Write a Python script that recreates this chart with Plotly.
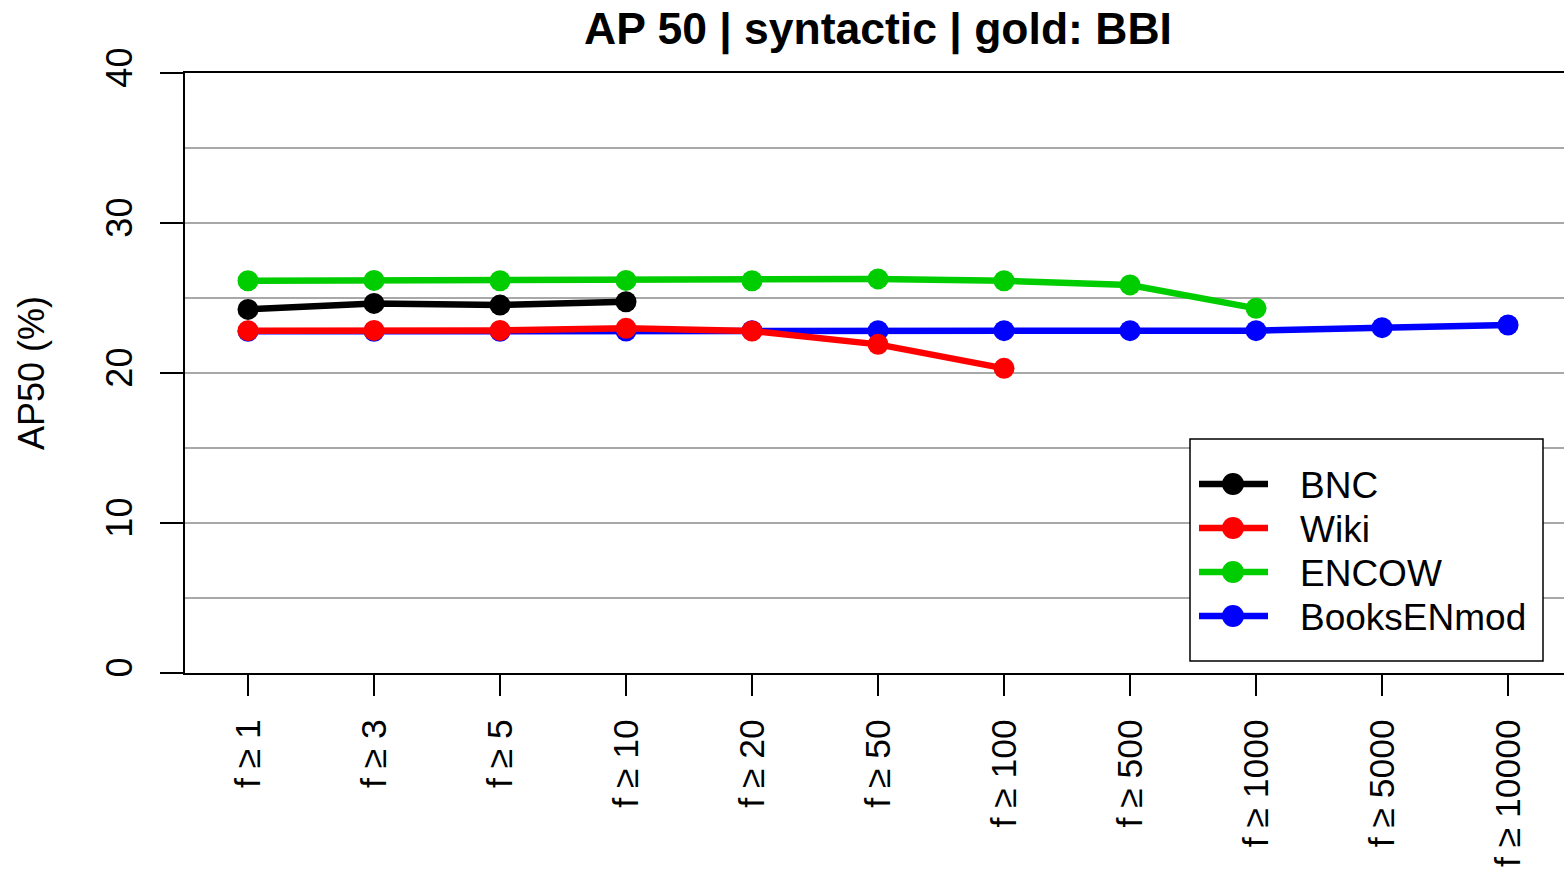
import plotly.graph_objects as go

# Frequency thresholds on the x axis
categories = ["f \u2265 1", "f \u2265 3", "f \u2265 5", "f \u2265 10", "f \u2265 20", "f \u2265 50",
              "f \u2265 100", "f \u2265 500", "f \u2265 1000", "f \u2265 5000", "f \u2265 10000"]

# AP50 (%) per corpus; None where the corpus has no data for a threshold
bnc = [24.24, 24.64, 24.53, 24.75, None, None, None, None, None, None, None]
wiki = [22.82, 22.84, 22.84, 22.98, 22.80, 21.91, 20.31, None, None, None, None]
encow = [26.15, 26.17, 26.15, 26.17, 26.15, 26.27, 26.15, 25.87, 24.31, None, None]
books = [22.78, 22.78, 22.78, 22.80, 22.82, 22.82, 22.82, 22.82, 22.82, 23.02, 23.20]

y_ticks = [0, 10, 20, 30, 40]

series_names = ["BNC", "Wiki", "ENCOW", "BooksENmod"]
series_colors = ["#000000", "#FF0000", "#00CD00", "#0000FF"]
series_values = [bnc, wiki, encow, books]

FONT = "Liberation Sans, Arial, Helvetica, sans-serif"
W, H = 1564, 871
L, R, T, B = 185, 0, 73, 198
PW, PH = W - L - R, H - T - B


def px_x(p):
    return (p - L) / PW


def px_y(p):
    return (H - B - p) / PH


fig = go.Figure()

# draw order: BooksENmod underneath, then BNC, Wiki, ENCOW
for idx in [3, 0, 1, 2]:
    fig.add_trace(go.Scatter(
        x=categories, y=series_values[idx], name=series_names[idx],
        mode="lines+markers", connectgaps=False,
        line=dict(color=series_colors[idx], width=6.5),
        marker=dict(color=series_colors[idx], size=21, line=dict(width=0)),
        showlegend=False,
    ))

# legend box in the lower right
shapes = [dict(type="rect", xref="paper", yref="paper",
               x0=px_x(1190), x1=px_x(1543), y0=px_y(661), y1=px_y(439),
               line=dict(color="black", width=1.5), fillcolor="white", layer="above")]
annotations = []
rows = [484, 528, 572, 616]
for name, color, ry in zip(series_names, series_colors, rows):
    shapes.append(dict(type="line", xref="paper", yref="paper",
                       x0=px_x(1199), x1=px_x(1268), y0=px_y(ry), y1=px_y(ry),
                       line=dict(color=color, width=6.5), layer="above"))
    shapes.append(dict(type="circle", xref="paper", yref="paper",
                       xsizemode="pixel", ysizemode="pixel",
                       xanchor=px_x(1233), yanchor=px_y(ry),
                       x0=-11, x1=11, y0=-11, y1=11,
                       line=dict(width=0), fillcolor=color, layer="above"))
    annotations.append(dict(text=name, xref="paper", yref="paper",
                            x=px_x(1298), y=px_y(ry + 1), xanchor="left", yanchor="middle",
                            showarrow=False, font=dict(family=FONT, size=37, color="black")))

# title and y-axis label
annotations.append(dict(text="<b>AP 50 | syntactic | gold: BBI</b>", xref="paper", yref="paper",
                        x=px_x(878), y=px_y(29), xanchor="center", yanchor="middle",
                        showarrow=False, font=dict(family=FONT, size=44.5, color="black")))
annotations.append(dict(text="AP50 (%)", xref="paper", yref="paper",
                        x=px_x(31), y=px_y(373), xanchor="center", yanchor="middle",
                        textangle=-90, showarrow=False,
                        font=dict(family=FONT, size=36, color="black")))

fig.update_layout(
    width=W, height=H,
    margin=dict(l=L, r=R, t=T, b=B, pad=0),
    paper_bgcolor="white", plot_bgcolor="white",
    font=dict(family=FONT, size=36, color="black"),
    shapes=shapes, annotations=annotations,
    showlegend=False,
)

fig.update_xaxes(
    type="category", range=[-0.5, 10.444],
    showline=True, linecolor="black", linewidth=2, mirror=True,
    ticks="outside", ticklen=21, tickwidth=2, tickcolor="black",
    tickangle=-90, tickfont=dict(family=FONT, size=35.5, color="black"),
    ticklabelstandoff=9,
    showgrid=False, zeroline=False,
)
fig.update_yaxes(
    range=[0, 40], tickvals=y_ticks, ticktext=[str(v) for v in y_ticks],
    showline=True, linecolor="black", linewidth=2, mirror=False,
    ticks="outside", ticklen=23, tickwidth=2, tickcolor="black",
    tickangle=-90, tickfont=dict(family=FONT, size=36, color="black"),
    ticklabelstandoff=14,
    showgrid=True, gridcolor="#A8A8A8", gridwidth=2,
    minor=dict(dtick=5, tick0=0, showgrid=True, gridcolor="#A8A8A8", gridwidth=2, ticks=""),
    zeroline=False,
)

fig.write_html("out.html")
